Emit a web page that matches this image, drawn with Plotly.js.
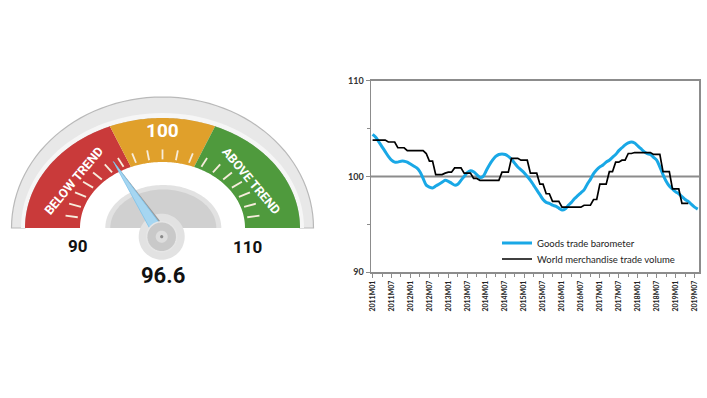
<!DOCTYPE html>
<html><head><meta charset="utf-8">
<script src="https://cdn.plot.ly/plotly-3.0.1.min.js"></script>
<style>html,body{margin:0;padding:0;background:#fff}#chart{width:707px;height:398px}</style>
</head><body><div id="chart"></div>
<script>
// ---------- DATA ----------
const seriesNames = ["Goods trade barometer", "World merchandise trade volume"];
const tickLabels = ["2011M01","2011M07","2012M01","2012M07","2013M01","2013M07","2014M01","2014M07",
  "2015M01","2015M07","2016M01","2016M07","2017M01","2017M07","2018M01","2018M07","2019M01","2019M07"];
const tickMonths = [0,6,12,18,24,30,36,42,48,54,60,66,72,78,84,90,96,102];
// monthly, starting 2011M01
const barometer = [104.4,104.1,103.6,103.1,102.6,102.1,101.7,101.5,101.5,101.6,
  101.6,101.5,101.3,101.1,100.9,100.5,99.8,99.1,98.9,98.8,
  99.0,99.2,99.4,99.6,99.5,99.3,99.1,99.2,99.6,100.0,
  100.4,100.6,100.5,100.2,99.9,100.0,100.6,101.2,101.7,102.1,
  102.3,102.35,102.3,102.1,101.8,101.4,101.0,100.7,100.4,100.0,
  99.6,99.1,98.6,98.1,97.6,97.3,97.2,97.0,96.9,96.7,
  96.5,96.6,97.0,97.3,97.7,98.0,98.3,98.6,99.2,99.7,
  100.3,100.7,101.0,101.2,101.5,101.7,102.0,102.3,102.7,103.0,
  103.3,103.5,103.6,103.5,103.2,102.9,102.6,102.4,102.3,102.0,
  101.7,101.0,100.2,99.5,99.0,98.7,98.4,98.2,97.9,97.6,
  97.4,97.1,96.8,96.6];
const tradeVolume = [103.8,103.8,103.8,103.8,103.8,103.6,103.6,103.6,103.0,103.0,
  103.0,102.7,102.7,102.7,102.7,102.7,102.7,102.4,101.6,101.6,
  100.2,100.2,100.2,100.35,100.45,100.45,100.9,100.9,100.9,100.35,
  100.35,100.35,99.8,99.8,99.6,99.6,99.6,99.6,99.6,99.6,
  99.6,100.45,100.45,100.45,101.9,101.9,101.9,101.7,101.7,101.7,
  100.35,100.35,100.35,99.2,99.2,98.2,98.2,97.4,97.4,97.4,
  96.8,96.8,96.8,96.8,96.8,96.8,96.8,97.0,97.0,97.0,
  97.6,97.6,99.2,99.2,99.2,100.5,100.5,101.5,101.5,101.7,
  101.7,102.4,102.4,102.5,102.5,102.5,102.5,102.5,102.5,102.3,
  102.3,102.3,100.5,100.5,100.5,98.7,98.7,98.7,97.2,97.2,
  97.2];
const yTickVals = [90, 100, 110];
const yTickText = ["90", "100", "110"];
// gauge
const gaugeMin = 90, gaugeMax = 110;
const gaugeValue = 96.6;
const bandEdges = [90, 97.5, 102.5, 110];
const bandColors = ["#c93a3a", "#e0a02b", "#4f9a3d"];
const bandLabels = ["BELOW TREND", "100", "ABOVE TREND"];
const gaugeTicks = [91,92,93,94,95,96,97,98,99,100,101,102,103,104,105,106,107,108,109];

// ---------- GAUGE GEOMETRY (pixel space of x2/y2) ----------
const G = {cx: 162.5, cy: 228, rIn: [82.5, 66], rOut: [137.5, 110], rim: [151, 131]};
const theta = v => Math.PI * (1 - (v - gaugeMin) / (gaugeMax - gaugeMin));
const pt = (v, rx, ry, s = 1) => { const t = theta(v); return [G.cx + rx * s * Math.cos(t), G.cy - ry * s * Math.sin(t)]; };
function arc(v0, v1, r, n = 60) {
  const out = [];
  for (let i = 0; i <= n; i++) out.push(pt(v0 + (v1 - v0) * i / n, r[0], r[1]));
  return out;
}
const toPath = pts => "M" + pts.map(p => p[0].toFixed(2) + "," + p[1].toFixed(2)).join(" L") + " Z";
function bandPath(v0, v1, ri, ro) {
  return toPath(arc(v0, v1, ro).concat(arc(v1, v0, ri)));
}
function ellipsePath(cx, cy, rx, ry, half) {
  const pts = [];
  const n = 80;
  for (let i = 0; i <= n; i++) {
    const t = half ? Math.PI * (1 - i / n) : 2 * Math.PI * i / n;
    pts.push([cx + rx * Math.cos(t), cy - ry * Math.sin(t)]);
  }
  return toPath(pts);
}
const g = (path, fill, line, lw) => ({type: "path", xref: "x2", yref: "y2", path: path,
  fillcolor: fill, line: {color: line || fill, width: lw || 0}});

const shapes = [];
// rim
shapes.push(g(bandPath(gaugeMin, gaugeMax, G.rOut, G.rim), "#e8e8e8", "#b9b9b9", 1.2));
shapes.push(g(bandPath(gaugeMin, gaugeMax, G.rOut, [G.rOut[0] + 4, G.rOut[1] + 5]), "#f6f6f6"));
// colour bands
for (let i = 0; i < bandColors.length; i++) {
  shapes.push(g(bandPath(bandEdges[i], bandEdges[i + 1], G.rIn, G.rOut), bandColors[i]));
}
// ticks
gaugeTicks.forEach(v => {
  const a = pt(v, G.rIn[0], G.rIn[1], 1.04), b = pt(v, G.rIn[0], G.rIn[1], 1.19);
  shapes.push({type: "line", xref: "x2", yref: "y2", x0: a[0], y0: a[1], x1: b[0], y1: b[1],
    line: {color: "#f7ecdc", width: 1.8}});
});
// dial
shapes.push(g(ellipsePath(G.cx + 0.8, G.cy, 58, 43, true), "#e2e2e2"));
shapes.push(g(ellipsePath(G.cx + 0.8, G.cy, 53, 38.5, true), "#d0d0d0"));
const hub = [G.cx - 0.8, 236.7];
shapes.push(g(ellipsePath(hub[0], hub[1], 23, 23, false), "#e2e2e2"));
// needle
{
  const tip = pt(gaugeValue, G.rIn[0], G.rIn[1], 1.17);
  const dx = tip[0] - hub[0], dy = tip[1] - hub[1], L = Math.hypot(dx, dy);
  const nx = -dy / L, ny = dx / L, w = 6.5;
  shapes.push(g(toPath([[tip[0] + 1, tip[1] + 1], [hub[0] + nx * w + 4, hub[1] + ny * w + 2], [hub[0] - nx * w + 4, hub[1] - ny * w + 2]]), "#9a9a9a"));
  shapes.push(g(toPath([tip, [hub[0] + nx * w, hub[1] + ny * w], [hub[0] - nx * w, hub[1] - ny * w]]), "#a6d6f1", "#7cc2ea", 0.8));
}
shapes.push(g(ellipsePath(hub[0], hub[1], 15, 15, false), "#c9c9c9", "#e6e6e6", 1.5));
shapes.push(g(ellipsePath(hub[0], hub[1], 6, 6, false), "#dedede"));
shapes.push(g(ellipsePath(hub[0], hub[1], 1.6, 1.6, false), "#8a8a8a"));
// reference line at 100 on the trade chart
shapes.push({type: "line", xref: "x domain", yref: "y", x0: 0, x1: 1, y0: 100, y1: 100,
  line: {color: "#8c8c8c", width: 2}, layer: "below"});

// ---------- ANNOTATIONS ----------
const condensed = "Roboto, 'Liberation Sans Narrow', sans-serif";
const annotations = [];
const tangentAngle = v => {
  const t = theta(v);
  return Math.atan2(G.rOut[1] * Math.cos(t), G.rOut[0] * Math.sin(t)) * 180 / Math.PI;
};
[0, 2].forEach(i => {
  const mid = (bandEdges[i] + bandEdges[i + 1]) / 2;
  const p = pt(mid, G.rOut[0], G.rOut[1], 0.775);
  annotations.push({xref: "x2", yref: "y2", x: p[0], y: p[1], text: bandLabels[i], showarrow: false,
    textangle: tangentAngle(mid), font: {family: condensed, size: 12.5, color: "#ffffff", weight: "bold"}});
});
{
  const mid = (bandEdges[1] + bandEdges[2]) / 2;
  const p = pt(mid, G.rOut[0], G.rOut[1], 0.885);
  annotations.push({xref: "x2", yref: "y2", x: p[0], y: p[1], text: bandLabels[1], showarrow: false,
    font: {family: condensed, size: 19, color: "#ffffff", weight: "bold"}});
}
{
  const a = pt(gaugeMin, G.rIn[0], G.rIn[1]), b = pt(gaugeMax, G.rIn[0], G.rIn[1]);
  annotations.push({xref: "x2", yref: "y2", x: a[0] - 2, y: 245.5, text: String(gaugeMin), showarrow: false,
    font: {family: condensed, size: 17, color: "#111", weight: "bold"}});
  annotations.push({xref: "x2", yref: "y2", x: b[0] + 2, y: 246.5, text: String(gaugeMax), showarrow: false,
    font: {family: condensed, size: 17, color: "#111", weight: "bold"}});
  annotations.push({xref: "x2", yref: "y2", x: G.cx + 0.5, y: 275, text: gaugeValue.toFixed(1), showarrow: false,
    font: {family: condensed, size: 22, color: "#111", weight: "bold"}});
}

// ---------- TRACES ----------
const months = barometer.map((_, i) => i);
const traces = [
  {type: "scatter", mode: "lines", name: seriesNames[0], x: months, y: barometer, legend: "legend",
   line: {color: "#19a8e6", width: 3, shape: "spline", smoothing: 0.8}, hoverinfo: "skip"},
  {type: "scatter", mode: "lines", name: seriesNames[1], x: months.slice(0, tradeVolume.length), y: tradeVolume,
   legend: "legend2", line: {color: "#000000", width: 1.7}, hoverinfo: "skip"},
  {type: "scatter", mode: "markers", x: [], y: [], xaxis: "x2", yaxis: "y2", showlegend: false, hoverinfo: "skip"}
];

const W = 707, H = 398;
const plotL = 371, plotR = 699.3, plotT = 80.7, plotB = 272.3;
const axisColor = "#8c8c8c";
const legendFont = {family: "Lato, 'Open Sans', sans-serif", size: 9.5, color: "#222"};
const layout = {
  width: W, height: H, autosize: false,
  margin: {l: 0, r: 0, t: 0, b: 0, pad: 0},
  paper_bgcolor: "#ffffff", plot_bgcolor: "rgba(0,0,0,0)",
  showlegend: true,
  legend: {x: 497 / W, xanchor: "left", y: 1 - 228.5 / H, yanchor: "top", bgcolor: "rgba(0,0,0,0)", font: legendFont},
  legend2: {x: 497 / W, xanchor: "left", y: 1 - 244.5 / H, yanchor: "top", bgcolor: "rgba(0,0,0,0)", font: legendFont},
  xaxis: {domain: [plotL / W, plotR / W], range: [-0.5, 103.5], showgrid: false, zeroline: false,
    showline: true, linecolor: axisColor, linewidth: 1.5, mirror: true,
    tickmode: "array", tickvals: tickMonths, ticktext: tickLabels, tickangle: -90,
    ticks: "outside", ticklen: 4, tickcolor: axisColor, tickwidth: 1,
    minor: {tickmode: "linear", tick0: 0, dtick: 3, ticks: "outside", ticklen: 3, tickcolor: axisColor, showgrid: false},
    tickfont: {family: "Lato, 'Open Sans', sans-serif", size: 7, color: "#222", weight: "bold"}, fixedrange: true},
  yaxis: {domain: [1 - plotB / H, 1 - plotT / H], range: [90, 110], showgrid: false, zeroline: false,
    showline: true, linecolor: axisColor, linewidth: 1.5, mirror: true,
    tickmode: "array", tickvals: yTickVals, ticktext: yTickText,
    ticks: "outside", ticklen: 4, tickcolor: axisColor, tickwidth: 1,
    minor: {tickmode: "linear", tick0: 90, dtick: 5, ticks: "outside", ticklen: 3, tickcolor: axisColor, showgrid: false},
    tickfont: {family: "Lato, 'Open Sans', sans-serif", size: 9, color: "#333", weight: "bold"}, fixedrange: true},
  xaxis2: {domain: [0, 0.5], range: [0, W * 0.5], visible: false, fixedrange: true, anchor: "y2"},
  yaxis2: {domain: [0, 1], range: [H, 0], visible: false, fixedrange: true, anchor: "x2"},
  shapes: shapes,
  annotations: annotations
};
Plotly.newPlot("chart", traces, layout, {displayModeBar: false, staticPlot: true});
</script>
</body></html>
